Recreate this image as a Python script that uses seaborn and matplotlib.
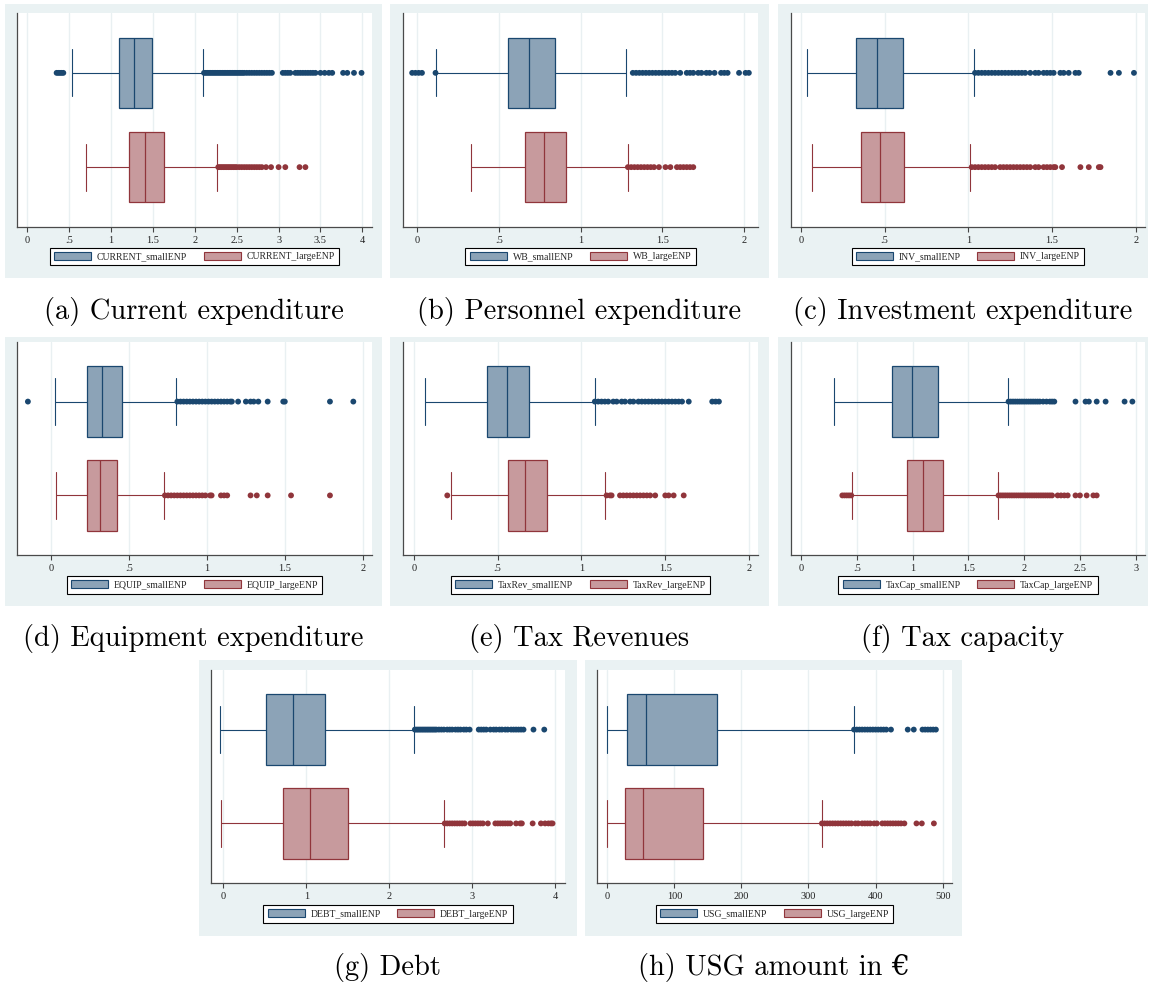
"""plot.py - Stata-style boxplots: small vs large ENP municipalities"""

import matplotlib
matplotlib.use('Agg')
import matplotlib.pyplot as plt
from matplotlib.patches import Patch, Rectangle
from matplotlib.ticker import FuncFormatter, MultipleLocator
import numpy as np
import pandas as pd
import seaborn as sns

# ---- data: [whisker low, q1, median, q3, whisker high] ----
current_small_box = [0.53, 1.09, 1.27, 1.49, 2.10]
current_large_box = [0.70, 1.22, 1.40, 1.63, 2.27]
current_small_out = [0.35, 0.37, 0.39, 0.41, 0.43,
                     2.11, 2.13, 2.15, 2.17, 2.19, 2.21, 2.23, 2.25, 2.27, 2.29, 2.31, 2.33,
                     2.35, 2.37, 2.39, 2.41, 2.43, 2.45, 2.47, 2.49, 2.51, 2.53, 2.55, 2.57,
                     2.59, 2.62, 2.65, 2.68, 2.71, 2.74, 2.77, 2.80, 2.83, 2.86, 2.89, 2.92,
                     3.05, 3.08, 3.11, 3.14, 3.20, 3.23, 3.26, 3.29, 3.32, 3.35, 3.38, 3.41,
                     3.44, 3.50, 3.55, 3.60, 3.64, 3.77, 3.82, 3.90, 3.99]
current_large_out = [2.28, 2.30, 2.32, 2.34, 2.36, 2.38, 2.40, 2.42, 2.44, 2.46, 2.48, 2.50,
                     2.53, 2.56, 2.59, 2.62, 2.65, 2.68, 2.71, 2.74, 2.77, 2.80, 2.85, 2.91,
                     3.00, 3.08, 3.25, 3.32]

wb_small_box = [0.118, 0.557, 0.685, 0.846, 1.276]
wb_large_box = [0.328, 0.661, 0.777, 0.911, 1.29]
wb_small_out = [-0.03, -0.01, 0.01, 0.03, 0.113,
                1.32, 1.34, 1.36, 1.38, 1.40, 1.42, 1.44, 1.46, 1.48, 1.50, 1.52, 1.54,
                1.56, 1.58, 1.61, 1.65, 1.67, 1.69, 1.72, 1.74, 1.77, 1.79, 1.82, 1.86,
                1.88, 1.90, 1.97, 2.01, 2.03]
wb_large_out = [1.29, 1.31, 1.33, 1.35, 1.37, 1.39, 1.41, 1.43, 1.45, 1.48, 1.52, 1.55,
                1.59, 1.61, 1.63, 1.65, 1.67, 1.69]

inv_small_box = [0.038, 0.328, 0.454, 0.609, 1.035]
inv_large_box = [0.068, 0.356, 0.472, 0.617, 1.011]
inv_small_out = [1.04, 1.06, 1.08, 1.10, 1.12, 1.14, 1.16, 1.18, 1.20, 1.22, 1.24, 1.26,
                 1.28, 1.30, 1.32, 1.34, 1.37, 1.40, 1.42, 1.45, 1.47, 1.49, 1.51, 1.55,
                 1.57, 1.60, 1.64, 1.66, 1.85, 1.90, 1.99]
inv_large_out = [1.02, 1.04, 1.06, 1.08, 1.10, 1.12, 1.14, 1.16, 1.19, 1.21, 1.23, 1.25,
                 1.27, 1.29, 1.31, 1.33, 1.35, 1.37, 1.40, 1.42, 1.45, 1.47, 1.49, 1.51,
                 1.52, 1.56, 1.67, 1.72, 1.78, 1.79]

equip_small_box = [0.026, 0.229, 0.323, 0.456, 0.80]
equip_large_box = [0.032, 0.229, 0.313, 0.424, 0.722]
equip_small_out = [-0.15, 0.81, 0.83, 0.85, 0.87, 0.89, 0.91, 0.93, 0.95, 0.97, 0.99, 1.01,
                   1.03, 1.05, 1.07, 1.09, 1.11, 1.13, 1.15, 1.16, 1.20, 1.25, 1.28, 1.30,
                   1.33, 1.39, 1.49, 1.50, 1.79, 1.94]
equip_large_out = [0.73, 0.75, 0.77, 0.79, 0.81, 0.83, 0.85, 0.87, 0.89, 0.91, 0.93, 0.95,
                   0.97, 0.99, 1.02, 1.03, 1.09, 1.11, 1.13, 1.28, 1.32, 1.39, 1.54, 1.79]

taxrev_small_box = [0.07, 0.435, 0.559, 0.69, 1.078]
taxrev_large_box = [0.225, 0.563, 0.664, 0.793, 1.141]
taxrev_small_out = [1.08, 1.10, 1.12, 1.14, 1.16, 1.19, 1.21, 1.24, 1.26, 1.29, 1.31, 1.34,
                    1.36, 1.38, 1.40, 1.42, 1.44, 1.46, 1.48, 1.50, 1.52, 1.54, 1.56, 1.58,
                    1.60, 1.64, 1.78, 1.80, 1.82]
taxrev_large_out = [0.20, 1.15, 1.17, 1.18, 1.23, 1.25, 1.27, 1.29, 1.31, 1.33, 1.35, 1.37,
                    1.39, 1.41, 1.44, 1.50, 1.52, 1.55, 1.61]

taxcap_small_box = [0.293, 0.812, 0.997, 1.227, 1.854]
taxcap_large_box = [0.457, 0.946, 1.09, 1.269, 1.761]
taxcap_small_out = [1.86, 1.88, 1.90, 1.92, 1.94, 1.96, 1.98, 2.00, 2.02, 2.04, 2.06, 2.08,
                    2.10, 2.12, 2.14, 2.17, 2.20, 2.23, 2.25, 2.27, 2.46, 2.55, 2.58, 2.65,
                    2.73, 2.90, 2.97]
taxcap_large_out = [0.37, 0.39, 0.41, 0.43, 0.45,
                    1.77, 1.79, 1.81, 1.83, 1.85, 1.87, 1.89, 1.91, 1.93, 1.95, 1.97, 1.99,
                    2.01, 2.03, 2.05, 2.07, 2.09, 2.11, 2.13, 2.15, 2.17, 2.19, 2.21, 2.23,
                    2.25, 2.30, 2.33, 2.36, 2.39, 2.46, 2.50, 2.56, 2.62, 2.65]

debt_small_box = [-0.04, 0.519, 0.844, 1.226, 2.30]
debt_large_box = [-0.032, 0.724, 1.049, 1.50, 2.665]
debt_small_out = [2.31, 2.33, 2.35, 2.37, 2.39, 2.41, 2.43, 2.45, 2.47, 2.49, 2.51, 2.53,
                  2.55, 2.57, 2.60, 2.63, 2.66, 2.70, 2.73, 2.76, 2.80, 2.83, 2.86, 2.90,
                  2.93, 2.97, 3.08, 3.11, 3.14, 3.17, 3.22, 3.26, 3.29, 3.33, 3.36, 3.40,
                  3.43, 3.47, 3.50, 3.53, 3.56, 3.59, 3.62, 3.74, 3.87]
debt_large_out = [2.67, 2.70, 2.73, 2.76, 2.79, 2.82, 2.85, 2.88, 2.91, 2.98, 3.01, 3.04,
                  3.07, 3.10, 3.13, 3.19, 3.28, 3.31, 3.34, 3.37, 3.40, 3.43, 3.46, 3.53,
                  3.58, 3.60, 3.73, 3.83, 3.88, 3.92, 3.95, 3.97]

usg_small_box = [0, 29.4, 57.2, 163.7, 367.2]
usg_large_box = [0, 25.9, 53.7, 143.3, 319.4]
usg_small_out = [368, 372, 376, 380, 384, 388, 392, 396, 400, 404, 408, 412, 416, 423,
                 448, 457, 470, 474, 478, 482, 486, 490]
usg_large_out = [320, 324, 328, 332, 336, 340, 344, 348, 352, 356, 360, 364, 370, 374,
                 380, 384, 388, 392, 398, 402, 410, 414, 418, 422, 426, 430, 434, 438,
                 443, 461, 469, 487]

prefixes = ['CURRENT', 'WB', 'INV', 'EQUIP', 'TaxRev', 'TaxCap', 'DEBT', 'USG']
captions = ['(a) Current expenditure', '(b) Personnel expenditure',
            '(c) Investment expenditure', '(d) Equipment expenditure',
            '(e) Tax Revenues', '(f) Tax capacity', '(g) Debt',
            '(h) USG amount in \u20ac']
tick_steps = [0.5, 0.5, 0.5, 0.5, 0.5, 0.5, 1, 100]

boxes = [(current_small_box, current_large_box), (wb_small_box, wb_large_box),
         (inv_small_box, inv_large_box), (equip_small_box, equip_large_box),
         (taxrev_small_box, taxrev_large_box), (taxcap_small_box, taxcap_large_box),
         (debt_small_box, debt_large_box), (usg_small_box, usg_large_box)]
outliers = [(current_small_out, current_large_out), (wb_small_out, wb_large_out),
            (inv_small_out, inv_large_out), (equip_small_out, equip_large_out),
            (taxrev_small_out, taxrev_large_out), (taxcap_small_out, taxcap_large_out),
            (debt_small_out, debt_large_out), (usg_small_out, usg_large_out)]

# ---- layout (pixels in a 1151x986 canvas) ----
W, H = 1151, 986
# panel background / plot region as (x0, x1, y0, y1)
bg_rects = [(5, 382, 4, 278), (390, 769, 4, 278), (778, 1148, 4, 278),
            (5, 382, 337, 606), (390, 769, 337, 606), (778, 1148, 337, 606),
            (199, 577, 660, 936), (585, 962, 660, 936)]
plot_rects = [(17, 372, 13, 227), (403, 758, 13, 227), (791, 1145, 13, 227),
              (17, 372, 342, 555), (403, 758, 342, 555), (791, 1145, 342, 555),
              (211, 565, 670, 883), (597, 952, 670, 883)]
xlims = [(-0.123, 4.115), (-0.086, 2.086), (-0.06, 2.056),
         (-0.22, 2.06), (-0.064, 2.053), (-0.09, 3.083),
         (-0.148, 4.12), (-15.4, 514)]
legend_y = [256.5, 256.5, 256.5, 585, 585, 585, 914, 914]
caption_y = [319, 319, 319, 646, 646, 646, 975, 975]

BG = '#eaf2f3'
NAVY, NAVY_FILL = '#1a476f', '#8ca3b7'
MAROON, MAROON_FILL = '#90353b', '#c79a9d'

sns.set_style('white')
plt.rcParams['font.family'] = ['Liberation Serif', 'DejaVu Serif']


def stata_fmt(v, _pos):
    s = f'{v:g}'
    if s.startswith('0.'):
        s = s[1:]
    return s


def draw_panel(fig, i):
    bx0, bx1, by0, by1 = bg_rects[i]
    fig.add_artist(Rectangle((bx0 / W, 1 - by1 / H), (bx1 - bx0) / W, (by1 - by0) / H,
                             transform=fig.transFigure, facecolor=BG,
                             edgecolor='none', zorder=-5))
    px0, px1, py0, py1 = plot_rects[i]
    ax = fig.add_axes([px0 / W, 1 - py1 / H, (px1 - px0) / W, (py1 - py0) / H])
    ax.set_facecolor('white')

    small_out, large_out = outliers[i]
    df = pd.DataFrame({'value': small_out + large_out,
                       'group': ['small'] * len(small_out) + ['large'] * len(large_out)})
    sns.stripplot(data=df, x='value', y='group', order=['small', 'large'],
                  hue='group', palette={'small': NAVY, 'large': MAROON},
                  jitter=False, size=4.2, linewidth=0, legend=False, ax=ax, zorder=4)

    for pos, stats, ec, fc in ((0, boxes[i][0], NAVY, NAVY_FILL),
                               (1, boxes[i][1], MAROON, MAROON_FILL)):
        lo, q1, med, q3, hi = stats
        st = [dict(whislo=lo, q1=q1, med=med, q3=q3, whishi=hi, fliers=[])]
        ax.bxp(st, positions=[pos], widths=0.75, capwidths=0.5,
               orientation='horizontal', patch_artist=True, showfliers=False,
               manage_ticks=False,
               boxprops=dict(facecolor=fc, edgecolor=ec, linewidth=0.9),
               whiskerprops=dict(color=ec, linewidth=0.8),
               capprops=dict(color=ec, linewidth=0.8),
               medianprops=dict(color=ec, linewidth=0.9))

    ax.set_ylim(1.635, -0.635)
    ax.set_xlim(*xlims[i])
    ax.set_yticks([])
    ax.set_xlabel('')
    ax.set_ylabel('')
    ax.xaxis.set_major_locator(MultipleLocator(tick_steps[i]))
    ax.xaxis.set_major_formatter(FuncFormatter(stata_fmt))
    ax.grid(axis='x', color='#e9f0f2', linewidth=1.0)
    ax.set_axisbelow(True)
    ax.tick_params(axis='x', bottom=True, length=3.5, width=0.8, color='#444444',
                   labelsize=7.5, pad=3, labelcolor='#222222')
    for side in ('top', 'right'):
        ax.spines[side].set_visible(False)
    for side in ('left', 'bottom'):
        ax.spines[side].set_color('#4a4a4a')
        ax.spines[side].set_linewidth(0.9)

    handles = [Patch(facecolor=NAVY_FILL, edgecolor=NAVY, linewidth=0.8),
               Patch(facecolor=MAROON_FILL, edgecolor=MAROON, linewidth=0.8)]
    labels = [f'{prefixes[i]}_smallENP', f'{prefixes[i]}_largeENP']
    cx = (px0 + px1) / 2
    leg = fig.legend(handles, labels, loc='center', ncol=2,
                     bbox_to_anchor=(cx / W, 1 - legend_y[i] / H),
                     bbox_transform=fig.transFigure, fontsize=7.0,
                     frameon=True, fancybox=False, edgecolor='black', framealpha=1,
                     handlelength=3.8, handleheight=0.85, handletextpad=0.6,
                     columnspacing=1.7, borderpad=0.45, borderaxespad=0)
    leg.get_frame().set_linewidth(0.8)

    cap_x = (bx0 + bx1) / 2
    fig.text(cap_x / W, 1 - caption_y[i] / H, captions[i], ha='center', va='baseline',
             fontsize=20.5, family=['cmr10', 'DejaVu Serif'], color='black')


fig = plt.figure(figsize=(W / 100, H / 100), dpi=100)
for i in range(len(prefixes)):
    draw_panel(fig, i)
fig.savefig('out.png', dpi=100)
plt.close(fig)
